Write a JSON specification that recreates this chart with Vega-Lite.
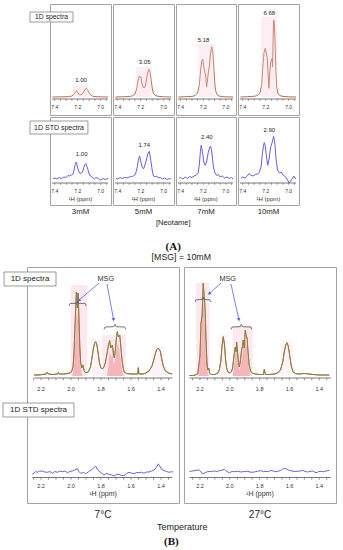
{
"$schema": "https://vega.github.io/schema/vega-lite/v6.json",
"background": "white",
"padding": {"left": 2, "top": 3, "right": 4, "bottom": 4},
"spacing": -1,
"config": {
  "view": {"stroke": "#a3a3a3", "strokeWidth": 1},
  "font": "Liberation Sans",
  "text": {"font": "Liberation Sans"},
  "title": {"font": "Liberation Sans", "fontWeight": "normal", "color": "#222"}
},
"datasets": {
  "one": [{}],
  "tA": [{"t":7.4},{"t":7.35},{"t":7.3},{"t":7.25},{"t":7.2},{"t":7.15},{"t":7.1},{"t":7.05},{"t":7.0},{"t":6.95}],
  "lA": [{"t":7.4,"lab":"7.4"},{"t":7.2,"lab":"7.2"},{"t":7.0,"lab":"7.0"}],
  "tB": [{"t":2.25},{"t":2.2},{"t":2.15},{"t":2.1},{"t":2.05},{"t":2.0},{"t":1.95},{"t":1.9},{"t":1.85},{"t":1.8},{"t":1.75},{"t":1.7},{"t":1.65},{"t":1.6},{"t":1.55},{"t":1.5},{"t":1.45},{"t":1.4},{"t":1.35}],
  "lB": [{"t":2.2,"lab":"2.2"},{"t":2.0,"lab":"2.0"},{"t":1.8,"lab":"1.8"},{"t":1.6,"lab":"1.6"},{"t":1.4,"lab":"1.4"}],
  "A1_3": [{"ppm":7.42,"i":0},{"ppm":7.38,"i":0.1},{"ppm":7.32,"i":0.2},{"ppm":7.28,"i":0.4},{"ppm":7.25,"i":1},{"ppm":7.235,"i":2.5},{"ppm":7.22,"i":5},{"ppm":7.21,"i":6.3},{"ppm":7.2,"i":4.5},{"ppm":7.19,"i":2.8},{"ppm":7.175,"i":2.2},{"ppm":7.16,"i":3},{"ppm":7.148,"i":5},{"ppm":7.135,"i":7.8},{"ppm":7.125,"i":8.7},{"ppm":7.115,"i":7.2},{"ppm":7.1,"i":4},{"ppm":7.085,"i":1.8},{"ppm":7.07,"i":0.8},{"ppm":7.05,"i":0.4},{"ppm":7.0,"i":0.1},{"ppm":6.935,"i":0}],
  "A1_5": [{"ppm":7.42,"i":0},{"ppm":7.36,"i":0.2},{"ppm":7.3,"i":0.5},{"ppm":7.27,"i":1.2},{"ppm":7.25,"i":3},{"ppm":7.235,"i":8},{"ppm":7.222,"i":17},{"ppm":7.212,"i":21},{"ppm":7.205,"i":19.5},{"ppm":7.198,"i":20},{"ppm":7.19,"i":14},{"ppm":7.18,"i":10},{"ppm":7.17,"i":9},{"ppm":7.16,"i":11},{"ppm":7.15,"i":17},{"ppm":7.14,"i":24},{"ppm":7.13,"i":27.7},{"ppm":7.12,"i":26},{"ppm":7.11,"i":18},{"ppm":7.1,"i":9},{"ppm":7.09,"i":4},{"ppm":7.075,"i":1.8},{"ppm":7.05,"i":0.7},{"ppm":7.0,"i":0.2},{"ppm":6.935,"i":0}],
  "A1_7": [{"ppm":7.42,"i":0},{"ppm":7.36,"i":0.3},{"ppm":7.3,"i":0.6},{"ppm":7.27,"i":1.5},{"ppm":7.25,"i":4},{"ppm":7.235,"i":12},{"ppm":7.222,"i":28},{"ppm":7.212,"i":36},{"ppm":7.204,"i":37.7},{"ppm":7.195,"i":30},{"ppm":7.186,"i":25},{"ppm":7.179,"i":22},{"ppm":7.17,"i":10},{"ppm":7.162,"i":18},{"ppm":7.154,"i":25},{"ppm":7.145,"i":32},{"ppm":7.135,"i":44},{"ppm":7.125,"i":50.3},{"ppm":7.115,"i":45},{"ppm":7.105,"i":28},{"ppm":7.095,"i":10},{"ppm":7.085,"i":4},{"ppm":7.07,"i":1.5},{"ppm":7.05,"i":0.6},{"ppm":7.0,"i":0.2},{"ppm":6.935,"i":0}],
  "A1_10": [{"ppm":7.42,"i":0},{"ppm":7.36,"i":0.3},{"ppm":7.3,"i":0.7},{"ppm":7.27,"i":1.5},{"ppm":7.25,"i":4},{"ppm":7.235,"i":12},{"ppm":7.225,"i":30},{"ppm":7.215,"i":44},{"ppm":7.204,"i":48.7},{"ppm":7.195,"i":44},{"ppm":7.187,"i":39},{"ppm":7.18,"i":25},{"ppm":7.172,"i":8.7},{"ppm":7.164,"i":25},{"ppm":7.157,"i":34},{"ppm":7.15,"i":37},{"ppm":7.145,"i":38.7},{"ppm":7.14,"i":30},{"ppm":7.136,"i":55},{"ppm":7.131,"i":77},{"ppm":7.126,"i":75},{"ppm":7.12,"i":60},{"ppm":7.112,"i":30},{"ppm":7.104,"i":10},{"ppm":7.095,"i":4},{"ppm":7.08,"i":1.5},{"ppm":7.05,"i":0.6},{"ppm":7.0,"i":0.2},{"ppm":6.935,"i":0}],
  "A2_3": [{"ppm":7.415,"i":0.5},{"ppm":7.40,"i":1},{"ppm":7.38,"i":0},{"ppm":7.36,"i":1.5},{"ppm":7.34,"i":0.5},{"ppm":7.32,"i":2},{"ppm":7.30,"i":1.5},{"ppm":7.285,"i":3.5},{"ppm":7.27,"i":3},{"ppm":7.255,"i":4},{"ppm":7.24,"i":5},{"ppm":7.23,"i":10},{"ppm":7.22,"i":15.5},{"ppm":7.212,"i":17},{"ppm":7.20,"i":11},{"ppm":7.185,"i":6},{"ppm":7.17,"i":5.5},{"ppm":7.155,"i":8},{"ppm":7.14,"i":14},{"ppm":7.128,"i":15.5},{"ppm":7.115,"i":11},{"ppm":7.10,"i":5},{"ppm":7.085,"i":2.5},{"ppm":7.07,"i":1.5},{"ppm":7.055,"i":0},{"ppm":7.04,"i":1.5},{"ppm":7.02,"i":0.5},{"ppm":7.00,"i":-1},{"ppm":6.98,"i":0.5},{"ppm":6.96,"i":-0.5},{"ppm":6.935,"i":0.5}],
  "A2_5": [{"ppm":7.415,"i":0.5},{"ppm":7.40,"i":0},{"ppm":7.38,"i":1.5},{"ppm":7.36,"i":0.5},{"ppm":7.34,"i":1.5},{"ppm":7.32,"i":1},{"ppm":7.30,"i":2},{"ppm":7.28,"i":2.5},{"ppm":7.26,"i":3},{"ppm":7.245,"i":5},{"ppm":7.23,"i":12},{"ppm":7.218,"i":20},{"ppm":7.209,"i":23},{"ppm":7.198,"i":17},{"ppm":7.185,"i":11},{"ppm":7.174,"i":10.3},{"ppm":7.16,"i":15},{"ppm":7.145,"i":22},{"ppm":7.135,"i":26},{"ppm":7.125,"i":27.7},{"ppm":7.115,"i":21},{"ppm":7.10,"i":9},{"ppm":7.089,"i":3},{"ppm":7.075,"i":2},{"ppm":7.06,"i":3},{"ppm":7.045,"i":1},{"ppm":7.03,"i":1.5},{"ppm":7.01,"i":0},{"ppm":6.99,"i":1},{"ppm":6.97,"i":-0.5},{"ppm":6.95,"i":0.5},{"ppm":6.935,"i":0}],
  "A2_7": [{"ppm":7.415,"i":0.5},{"ppm":7.40,"i":1.5},{"ppm":7.38,"i":0},{"ppm":7.36,"i":2},{"ppm":7.34,"i":0.5},{"ppm":7.32,"i":2.5},{"ppm":7.30,"i":1.5},{"ppm":7.28,"i":3},{"ppm":7.26,"i":4},{"ppm":7.245,"i":6},{"ppm":7.235,"i":14},{"ppm":7.225,"i":28},{"ppm":7.218,"i":33.7},{"ppm":7.208,"i":28},{"ppm":7.195,"i":17},{"ppm":7.183,"i":13.7},{"ppm":7.17,"i":17},{"ppm":7.155,"i":27},{"ppm":7.142,"i":32},{"ppm":7.134,"i":33},{"ppm":7.122,"i":25},{"ppm":7.11,"i":12},{"ppm":7.096,"i":6},{"ppm":7.08,"i":3.5},{"ppm":7.065,"i":4.5},{"ppm":7.05,"i":2},{"ppm":7.03,"i":3},{"ppm":7.01,"i":1},{"ppm":6.99,"i":2},{"ppm":6.97,"i":0.5},{"ppm":6.95,"i":1.5},{"ppm":6.935,"i":0}],
  "A2_10": [{"ppm":7.415,"i":1},{"ppm":7.40,"i":2},{"ppm":7.38,"i":1},{"ppm":7.36,"i":3},{"ppm":7.345,"i":5.5},{"ppm":7.33,"i":4},{"ppm":7.31,"i":3},{"ppm":7.29,"i":4.5},{"ppm":7.27,"i":5},{"ppm":7.255,"i":7},{"ppm":7.24,"i":12},{"ppm":7.228,"i":26},{"ppm":7.218,"i":34},{"ppm":7.212,"i":36.3},{"ppm":7.205,"i":34},{"ppm":7.195,"i":24},{"ppm":7.182,"i":13.7},{"ppm":7.17,"i":20},{"ppm":7.158,"i":31},{"ppm":7.152,"i":33.7},{"ppm":7.145,"i":36},{"ppm":7.131,"i":42.7},{"ppm":7.12,"i":35},{"ppm":7.108,"i":18},{"ppm":7.096,"i":8.7},{"ppm":7.08,"i":6},{"ppm":7.065,"i":7},{"ppm":7.05,"i":4},{"ppm":7.035,"i":3},{"ppm":7.02,"i":1},{"ppm":7.005,"i":-2},{"ppm":6.995,"i":-4},{"ppm":6.985,"i":-2},{"ppm":6.97,"i":0},{"ppm":6.955,"i":3},{"ppm":6.945,"i":1},{"ppm":6.935,"i":0}],
  "B1_1d": [{"ppm":2.246,"i":1},{"ppm":2.22,"i":1},{"ppm":2.19,"i":1.5},{"ppm":2.165,"i":2},{"ppm":2.158,"i":4},{"ppm":2.15,"i":2},{"ppm":2.12,"i":1.5},{"ppm":2.09,"i":2},{"ppm":2.084,"i":3.5},{"ppm":2.078,"i":2},{"ppm":2.05,"i":2},{"ppm":2.02,"i":2.5},{"ppm":2.0,"i":3.5},{"ppm":1.992,"i":6},{"ppm":1.986,"i":9},{"ppm":1.98,"i":22},{"ppm":1.975,"i":43},{"ppm":1.97,"i":62},{"ppm":1.964,"i":84},{"ppm":1.958,"i":68},{"ppm":1.953,"i":83},{"ppm":1.948,"i":64},{"ppm":1.941,"i":30},{"ppm":1.935,"i":13},{"ppm":1.928,"i":8},{"ppm":1.92,"i":11},{"ppm":1.912,"i":5},{"ppm":1.9,"i":3},{"ppm":1.885,"i":4},{"ppm":1.87,"i":9},{"ppm":1.86,"i":18},{"ppm":1.85,"i":28},{"ppm":1.842,"i":33},{"ppm":1.835,"i":34.3},{"ppm":1.827,"i":31},{"ppm":1.818,"i":22},{"ppm":1.81,"i":13},{"ppm":1.8,"i":8},{"ppm":1.791,"i":7},{"ppm":1.78,"i":9},{"ppm":1.77,"i":14},{"ppm":1.76,"i":22},{"ppm":1.75,"i":31},{"ppm":1.742,"i":35.3},{"ppm":1.735,"i":28},{"ppm":1.729,"i":30},{"ppm":1.724,"i":31},{"ppm":1.717,"i":22},{"ppm":1.711,"i":18},{"ppm":1.704,"i":26},{"ppm":1.697,"i":38},{"ppm":1.691,"i":44.3},{"ppm":1.684,"i":39},{"ppm":1.675,"i":41},{"ppm":1.668,"i":30},{"ppm":1.66,"i":16},{"ppm":1.652,"i":8},{"ppm":1.646,"i":4},{"ppm":1.63,"i":2.5},{"ppm":1.6,"i":2},{"ppm":1.57,"i":2},{"ppm":1.555,"i":2},{"ppm":1.551,"i":8.3},{"ppm":1.547,"i":2},{"ppm":1.52,"i":2},{"ppm":1.5,"i":3},{"ppm":1.48,"i":5},{"ppm":1.46,"i":10},{"ppm":1.45,"i":15},{"ppm":1.44,"i":21},{"ppm":1.43,"i":26},{"ppm":1.418,"i":28},{"ppm":1.405,"i":25},{"ppm":1.395,"i":17},{"ppm":1.385,"i":10},{"ppm":1.37,"i":5},{"ppm":1.35,"i":3},{"ppm":1.326,"i":2}],
  "B1_red": [{"ppm":1.99,"i":0},{"ppm":1.98,"i":10},{"ppm":1.972,"i":35},{"ppm":1.964,"i":68},{"ppm":1.958,"i":55},{"ppm":1.953,"i":70},{"ppm":1.946,"i":50},{"ppm":1.938,"i":15},{"ppm":1.93,"i":3},{"ppm":1.92,"i":0},{"ppm":1.76,"i":0},{"ppm":1.75,"i":10},{"ppm":1.742,"i":25},{"ppm":1.733,"i":18},{"ppm":1.724,"i":24},{"ppm":1.716,"i":12},{"ppm":1.708,"i":14},{"ppm":1.698,"i":26},{"ppm":1.69,"i":32},{"ppm":1.68,"i":28},{"ppm":1.672,"i":20},{"ppm":1.66,"i":6},{"ppm":1.65,"i":0}],
  "B1_br": [{"id":1,"ppm":2.013,"i":70},{"id":1,"ppm":2.006,"i":72.5},{"id":1,"ppm":1.963,"i":72.7},{"id":1,"ppm":1.955,"i":75},{"id":1,"ppm":1.948,"i":72.7},{"id":1,"ppm":1.904,"i":72.5},{"id":1,"ppm":1.898,"i":70},{"id":2,"ppm":1.78,"i":46.5},{"id":2,"ppm":1.773,"i":49},{"id":2,"ppm":1.715,"i":49.3},{"id":2,"ppm":1.707,"i":51.7},{"id":2,"ppm":1.7,"i":49.3},{"id":2,"ppm":1.642,"i":49},{"id":2,"ppm":1.635,"i":46.5}],
  "B1_std": [{"ppm":2.258,"i":-2.3},{"ppm":2.245,"i":-1},{"ppm":2.235,"i":0.5},{"ppm":2.224,"i":-0.3},{"ppm":2.21,"i":0.8},{"ppm":2.191,"i":1},{"ppm":2.175,"i":0},{"ppm":2.158,"i":-0.3},{"ppm":2.14,"i":0.5},{"ppm":2.124,"i":-1.3},{"ppm":2.108,"i":0.5},{"ppm":2.091,"i":-0.3},{"ppm":2.075,"i":0.8},{"ppm":2.058,"i":0.3},{"ppm":2.04,"i":1},{"ppm":2.024,"i":-0.7},{"ppm":2.008,"i":0.5},{"ppm":1.991,"i":1},{"ppm":1.975,"i":2},{"ppm":1.958,"i":3.5},{"ppm":1.947,"i":0.5},{"ppm":1.935,"i":-1.3},{"ppm":1.918,"i":-0.5},{"ppm":1.902,"i":-1.7},{"ppm":1.885,"i":0},{"ppm":1.868,"i":1.7},{"ppm":1.85,"i":4},{"ppm":1.835,"i":5.8},{"ppm":1.825,"i":3},{"ppm":1.813,"i":1},{"ppm":1.797,"i":-1},{"ppm":1.78,"i":-3},{"ppm":1.763,"i":-1.5},{"ppm":1.746,"i":-2.3},{"ppm":1.73,"i":-2.8},{"ppm":1.713,"i":-4},{"ppm":1.697,"i":-2.5},{"ppm":1.68,"i":-2.3},{"ppm":1.663,"i":-3.5},{"ppm":1.646,"i":-3.7},{"ppm":1.63,"i":-1.5},{"ppm":1.613,"i":-0.3},{"ppm":1.597,"i":-1},{"ppm":1.58,"i":-1.7},{"ppm":1.563,"i":-0.5},{"ppm":1.546,"i":-0.7},{"ppm":1.53,"i":-0.2},{"ppm":1.513,"i":-1.3},{"ppm":1.497,"i":0},{"ppm":1.48,"i":0},{"ppm":1.463,"i":1},{"ppm":1.446,"i":2},{"ppm":1.43,"i":4.5},{"ppm":1.418,"i":8.2},{"ppm":1.405,"i":5},{"ppm":1.395,"i":2.5},{"ppm":1.38,"i":1.5},{"ppm":1.363,"i":0.5},{"ppm":1.346,"i":-0.3},{"ppm":1.33,"i":0.3},{"ppm":1.318,"i":0}],
  "B2_1d": [{"ppm":2.271,"i":0.5},{"ppm":2.25,"i":0.5},{"ppm":2.23,"i":1},{"ppm":2.215,"i":2},{"ppm":2.209,"i":9},{"ppm":2.2,"i":20},{"ppm":2.193,"i":53},{"ppm":2.186,"i":60},{"ppm":2.178,"i":93},{"ppm":2.172,"i":80},{"ppm":2.168,"i":73},{"ppm":2.164,"i":60},{"ppm":2.16,"i":39},{"ppm":2.155,"i":20},{"ppm":2.151,"i":9},{"ppm":2.146,"i":6},{"ppm":2.141,"i":8},{"ppm":2.135,"i":3},{"ppm":2.126,"i":1.5},{"ppm":2.1,"i":1.5},{"ppm":2.08,"i":3},{"ppm":2.07,"i":6},{"ppm":2.06,"i":15},{"ppm":2.052,"i":30},{"ppm":2.044,"i":39.3},{"ppm":2.036,"i":32},{"ppm":2.028,"i":16},{"ppm":2.02,"i":7},{"ppm":2.01,"i":3.5},{"ppm":2.0,"i":3},{"ppm":1.99,"i":4},{"ppm":1.981,"i":8},{"ppm":1.972,"i":20},{"ppm":1.963,"i":29},{"ppm":1.958,"i":24},{"ppm":1.954,"i":34},{"ppm":1.947,"i":22},{"ppm":1.94,"i":12},{"ppm":1.936,"i":9},{"ppm":1.93,"i":14},{"ppm":1.922,"i":25},{"ppm":1.915,"i":30},{"ppm":1.91,"i":36},{"ppm":1.903,"i":28},{"ppm":1.896,"i":46},{"ppm":1.89,"i":40},{"ppm":1.885,"i":39},{"ppm":1.878,"i":25},{"ppm":1.87,"i":11},{"ppm":1.86,"i":5},{"ppm":1.853,"i":3},{"ppm":1.83,"i":2},{"ppm":1.8,"i":1.5},{"ppm":1.775,"i":1.5},{"ppm":1.768,"i":7},{"ppm":1.762,"i":1.5},{"ppm":1.74,"i":1.5},{"ppm":1.7,"i":2},{"ppm":1.68,"i":3},{"ppm":1.66,"i":6},{"ppm":1.645,"i":14},{"ppm":1.635,"i":24},{"ppm":1.625,"i":31},{"ppm":1.617,"i":33.3},{"ppm":1.608,"i":30},{"ppm":1.598,"i":20},{"ppm":1.588,"i":10},{"ppm":1.575,"i":4},{"ppm":1.56,"i":2.5},{"ppm":1.54,"i":2},{"ppm":1.5,"i":2.5},{"ppm":1.47,"i":2},{"ppm":1.44,"i":1.5},{"ppm":1.4,"i":1},{"ppm":1.36,"i":1},{"ppm":1.333,"i":1}],
  "B2_red": [{"ppm":2.21,"i":0},{"ppm":2.195,"i":25},{"ppm":2.185,"i":60},{"ppm":2.178,"i":80},{"ppm":2.17,"i":60},{"ppm":2.16,"i":30},{"ppm":2.15,"i":5},{"ppm":2.14,"i":0},{"ppm":1.98,"i":0},{"ppm":1.97,"i":12},{"ppm":1.963,"i":22},{"ppm":1.954,"i":26},{"ppm":1.945,"i":12},{"ppm":1.936,"i":5},{"ppm":1.925,"i":12},{"ppm":1.91,"i":28},{"ppm":1.897,"i":36},{"ppm":1.886,"i":30},{"ppm":1.872,"i":8},{"ppm":1.86,"i":0}],
  "B2_br": [{"id":1,"ppm":2.233,"i":73.7},{"id":1,"ppm":2.227,"i":76.2},{"id":1,"ppm":2.186,"i":76.5},{"id":1,"ppm":2.18,"i":79},{"id":1,"ppm":2.173,"i":76.5},{"id":1,"ppm":2.133,"i":76.2},{"id":1,"ppm":2.126,"i":73.7},{"id":2,"ppm":1.992,"i":46.5},{"id":2,"ppm":1.985,"i":49},{"id":2,"ppm":1.93,"i":49.3},{"id":2,"ppm":1.923,"i":51.7},{"id":2,"ppm":1.915,"i":49.3},{"id":2,"ppm":1.86,"i":49},{"id":2,"ppm":1.853,"i":46.5}],
  "B2_std": [{"ppm":2.271,"i":0.3},{"ppm":2.255,"i":1},{"ppm":2.238,"i":1.3},{"ppm":2.22,"i":1.8},{"ppm":2.204,"i":2},{"ppm":2.192,"i":0},{"ppm":2.182,"i":-2},{"ppm":2.165,"i":-0.5},{"ppm":2.148,"i":0.3},{"ppm":2.125,"i":0.5},{"ppm":2.104,"i":1},{"ppm":2.087,"i":0.5},{"ppm":2.07,"i":1.3},{"ppm":2.053,"i":1.8},{"ppm":2.037,"i":2.7},{"ppm":2.02,"i":0.5},{"ppm":2.003,"i":-0.7},{"ppm":1.985,"i":0.5},{"ppm":1.97,"i":0.3},{"ppm":1.948,"i":0.8},{"ppm":1.925,"i":0},{"ppm":1.903,"i":0.5},{"ppm":1.88,"i":0.7},{"ppm":1.858,"i":-0.3},{"ppm":1.836,"i":0},{"ppm":1.813,"i":0.8},{"ppm":1.791,"i":1.3},{"ppm":1.774,"i":0.3},{"ppm":1.757,"i":0.7},{"ppm":1.74,"i":0.3},{"ppm":1.724,"i":1.7},{"ppm":1.7,"i":0.5},{"ppm":1.679,"i":0.7},{"ppm":1.66,"i":1.5},{"ppm":1.645,"i":3},{"ppm":1.633,"i":3.5},{"ppm":1.623,"i":3.3},{"ppm":1.607,"i":2},{"ppm":1.59,"i":1.3},{"ppm":1.568,"i":0.5},{"ppm":1.545,"i":0.7},{"ppm":1.528,"i":1},{"ppm":1.511,"i":1.7},{"ppm":1.495,"i":0.5},{"ppm":1.478,"i":0},{"ppm":1.461,"i":0.7},{"ppm":1.444,"i":1},{"ppm":1.433,"i":0},{"ppm":1.422,"i":-0.7},{"ppm":1.405,"i":0.3},{"ppm":1.389,"i":0.7},{"ppm":1.372,"i":0.3},{"ppm":1.355,"i":1},{"ppm":1.333,"i":1.7}]
},
"vconcat": [
 {
  "spacing": 0,
  "title": {"text": "[Neotame]", "subtitle": "(A)", "orient": "bottom", "anchor": "middle", "dx": 10, "offset": 3.4, "fontSize": 7.5, "fontWeight": "normal", "color": "#222", "subtitleFont": "Liberation Serif", "subtitleFontWeight": "bold", "subtitleFontSize": 11, "subtitleColor": "#111", "subtitlePadding": 14.6},
  "vconcat": [
   {"spacing": 0, "hconcat": [
    {"width": 2, "height": 111, "view": {"stroke": null}, "data": {"name": "one"}, "mark": {"type": "text"}, "encoding": {"text": {"value": ""}}},
    {"width": 61, "height": 111, "layer": [
      {"data": {"name": "A1_3"}, "mark": {"type": "line", "color": "#b5704a", "strokeWidth": 1}, "encoding": {
        "x": {"field": "ppm", "type": "quantitative", "scale": {"domain": [6.91, 7.441], "reverse": true, "zero": false, "nice": false}, "axis": null},
        "y": {"field": "i", "type": "quantitative", "scale": {"domain": [-18, 93], "zero": false, "nice": false}, "axis": null}}},
      {"data": {"name": "one"}, "mark": {"type": "rect", "color": "#f8c6d6", "opacity": 0.3}, "encoding": {"x": {"datum": 7.24, "axis": null}, "x2": {"datum": 7.105}, "y": {"datum": 0, "axis": null}, "y2": {"datum": 11}}},
      {"data": {"name": "one"}, "mark": {"type": "rule", "color": "#555", "strokeWidth": 0.8}, "encoding": {"x": {"datum": 7.424, "axis": null}, "x2": {"datum": 6.937}, "y": {"datum": -2, "axis": null}}},
      {"data": {"name": "tA"}, "mark": {"type": "rule", "color": "#555", "strokeWidth": 0.6}, "encoding": {"x": {"field": "t", "type": "quantitative", "axis": null}, "y": {"datum": -2, "axis": null}, "y2": {"datum": -3.8}}},
      {"data": {"name": "lA"}, "mark": {"type": "text", "fontSize": 5, "color": "#333"}, "encoding": {"x": {"field": "t", "type": "quantitative", "axis": null}, "y": {"datum": -9.7, "axis": null}, "text": {"field": "lab"}}},
      {"data": {"name": "one"}, "mark": {"type": "text", "fontSize": 6, "color": "#222"}, "encoding": {"x": {"datum": 7.171, "axis": null}, "y": {"datum": 17, "axis": null}, "text": {"value": "1.00"}}},
      {"data": {"name": "one"}, "mark": {"type": "rect", "fill": "white", "stroke": "#707070", "strokeWidth": 0.7}, "encoding": {"x": {"datum": 7.615, "axis": null}, "x2": {"datum": 7.241}, "y": {"datum": 85, "axis": null}, "y2": {"datum": 75}}},
      {"data": {"name": "one"}, "mark": {"type": "text", "fontSize": 6.8, "color": "#222"}, "encoding": {"x": {"datum": 7.428, "axis": null}, "y": {"datum": 80, "axis": null}, "text": {"value": "1D spectra"}}}
    ]},
    {"width": 61, "height": 111, "layer": [
      {"data": {"name": "A1_5"}, "mark": {"type": "line", "color": "#b5704a", "strokeWidth": 1}, "encoding": {
        "x": {"field": "ppm", "type": "quantitative", "scale": {"domain": [6.91, 7.441], "reverse": true, "zero": false, "nice": false}, "axis": null},
        "y": {"field": "i", "type": "quantitative", "scale": {"domain": [-18, 93], "zero": false, "nice": false}, "axis": null}}},
      {"data": {"name": "one"}, "mark": {"type": "rect", "color": "#f8c6d6", "opacity": 0.3}, "encoding": {"x": {"datum": 7.24, "axis": null}, "x2": {"datum": 7.105}, "y": {"datum": 0, "axis": null}, "y2": {"datum": 30}}},
      {"data": {"name": "one"}, "mark": {"type": "rule", "color": "#555", "strokeWidth": 0.8}, "encoding": {"x": {"datum": 7.424, "axis": null}, "x2": {"datum": 6.937}, "y": {"datum": -2, "axis": null}}},
      {"data": {"name": "tA"}, "mark": {"type": "rule", "color": "#555", "strokeWidth": 0.6}, "encoding": {"x": {"field": "t", "type": "quantitative", "axis": null}, "y": {"datum": -2, "axis": null}, "y2": {"datum": -3.8}}},
      {"data": {"name": "lA"}, "mark": {"type": "text", "fontSize": 5, "color": "#333"}, "encoding": {"x": {"field": "t", "type": "quantitative", "axis": null}, "y": {"datum": -9.7, "axis": null}, "text": {"field": "lab"}}},
      {"data": {"name": "one"}, "mark": {"type": "text", "fontSize": 6, "color": "#222"}, "encoding": {"x": {"datum": 7.165, "axis": null}, "y": {"datum": 35, "axis": null}, "text": {"value": "3.05"}}}
    ]},
    {"width": 60, "height": 111, "layer": [
      {"data": {"name": "A1_7"}, "mark": {"type": "line", "color": "#b5704a", "strokeWidth": 1}, "encoding": {
        "x": {"field": "ppm", "type": "quantitative", "scale": {"domain": [6.91, 7.441], "reverse": true, "zero": false, "nice": false}, "axis": null},
        "y": {"field": "i", "type": "quantitative", "scale": {"domain": [-18, 93], "zero": false, "nice": false}, "axis": null}}},
      {"data": {"name": "one"}, "mark": {"type": "rect", "color": "#f8c6d6", "opacity": 0.3}, "encoding": {"x": {"datum": 7.24, "axis": null}, "x2": {"datum": 7.1}, "y": {"datum": 0, "axis": null}, "y2": {"datum": 53}}},
      {"data": {"name": "one"}, "mark": {"type": "rule", "color": "#555", "strokeWidth": 0.8}, "encoding": {"x": {"datum": 7.424, "axis": null}, "x2": {"datum": 6.937}, "y": {"datum": -2, "axis": null}}},
      {"data": {"name": "tA"}, "mark": {"type": "rule", "color": "#555", "strokeWidth": 0.6}, "encoding": {"x": {"field": "t", "type": "quantitative", "axis": null}, "y": {"datum": -2, "axis": null}, "y2": {"datum": -3.8}}},
      {"data": {"name": "lA"}, "mark": {"type": "text", "fontSize": 5, "color": "#333"}, "encoding": {"x": {"field": "t", "type": "quantitative", "axis": null}, "y": {"datum": -9.7, "axis": null}, "text": {"field": "lab"}}},
      {"data": {"name": "one"}, "mark": {"type": "text", "fontSize": 6, "color": "#222"}, "encoding": {"x": {"datum": 7.197, "axis": null}, "y": {"datum": 57, "axis": null}, "text": {"value": "5.18"}}}
    ]},
    {"width": 61, "height": 111, "layer": [
      {"data": {"name": "A1_10"}, "mark": {"type": "line", "color": "#b5704a", "strokeWidth": 1}, "encoding": {
        "x": {"field": "ppm", "type": "quantitative", "scale": {"domain": [6.91, 7.441], "reverse": true, "zero": false, "nice": false}, "axis": null},
        "y": {"field": "i", "type": "quantitative", "scale": {"domain": [-18, 93], "zero": false, "nice": false}, "axis": null}}},
      {"data": {"name": "one"}, "mark": {"type": "rect", "color": "#f8c6d6", "opacity": 0.3}, "encoding": {"x": {"datum": 7.241, "axis": null}, "x2": {"datum": 7.1}, "y": {"datum": 0, "axis": null}, "y2": {"datum": 80}}},
      {"data": {"name": "one"}, "mark": {"type": "rule", "color": "#555", "strokeWidth": 0.8}, "encoding": {"x": {"datum": 7.424, "axis": null}, "x2": {"datum": 6.937}, "y": {"datum": -2, "axis": null}}},
      {"data": {"name": "tA"}, "mark": {"type": "rule", "color": "#555", "strokeWidth": 0.6}, "encoding": {"x": {"field": "t", "type": "quantitative", "axis": null}, "y": {"datum": -2, "axis": null}, "y2": {"datum": -3.8}}},
      {"data": {"name": "lA"}, "mark": {"type": "text", "fontSize": 5, "color": "#333"}, "encoding": {"x": {"field": "t", "type": "quantitative", "axis": null}, "y": {"datum": -9.7, "axis": null}, "text": {"field": "lab"}}},
      {"data": {"name": "one"}, "mark": {"type": "text", "fontSize": 6, "color": "#222"}, "encoding": {"x": {"datum": 7.169, "axis": null}, "y": {"datum": 84, "axis": null}, "text": {"value": "6.68"}}}
    ]}
   ]},
   {"spacing": 0, "hconcat": [
    {"width": 2, "height": 88, "view": {"stroke": null}, "data": {"name": "one"}, "mark": {"type": "text"}, "encoding": {"text": {"value": ""}}},
    {"width": 61, "height": 88, "title": {"text": "3mM", "orient": "bottom", "frame": "group", "anchor": "middle", "fontSize": 7.8, "offset": 2.6}, "layer": [
      {"data": {"name": "A2_3"}, "mark": {"type": "line", "color": "#6a60e0", "strokeWidth": 1}, "encoding": {
        "x": {"field": "ppm", "type": "quantitative", "scale": {"domain": [6.91, 7.441], "reverse": true, "zero": false, "nice": false}, "axis": null},
        "y": {"field": "i", "type": "quantitative", "scale": {"domain": [-26, 62], "zero": false, "nice": false}, "axis": null}}},
      {"data": {"name": "one"}, "mark": {"type": "rule", "color": "#555", "strokeWidth": 0.8}, "encoding": {"x": {"datum": 7.424, "axis": null}, "x2": {"datum": 6.937}, "y": {"datum": -4, "axis": null}}},
      {"data": {"name": "tA"}, "mark": {"type": "rule", "color": "#555", "strokeWidth": 0.6}, "encoding": {"x": {"field": "t", "type": "quantitative", "axis": null}, "y": {"datum": -4, "axis": null}, "y2": {"datum": -5.8}}},
      {"data": {"name": "lA"}, "mark": {"type": "text", "fontSize": 5, "color": "#333"}, "encoding": {"x": {"field": "t", "type": "quantitative", "axis": null}, "y": {"datum": -12.3, "axis": null}, "text": {"field": "lab"}}},
      {"data": {"name": "one"}, "mark": {"type": "text", "fontSize": 6, "color": "#333"}, "encoding": {"x": {"datum": 7.176, "axis": null}, "y": {"datum": -19.7, "axis": null}, "text": {"value": "¹H (ppm)"}}},
      {"data": {"name": "one"}, "mark": {"type": "text", "fontSize": 6, "color": "#222"}, "encoding": {"x": {"datum": 7.165, "axis": null}, "y": {"datum": 24.7, "axis": null}, "text": {"value": "1.00"}}},
      {"data": {"name": "one"}, "mark": {"type": "rect", "fill": "white", "stroke": "#707070", "strokeWidth": 0.7}, "encoding": {"x": {"datum": 7.615, "axis": null}, "x2": {"datum": 7.111}, "y": {"datum": 58, "axis": null}, "y2": {"datum": 45}}},
      {"data": {"name": "one"}, "mark": {"type": "text", "fontSize": 7, "color": "#222"}, "encoding": {"x": {"datum": 7.363, "axis": null}, "y": {"datum": 51.5, "axis": null}, "text": {"value": "1D STD spectra"}}}
    ]},
    {"width": 61, "height": 88, "title": {"text": "5mM", "orient": "bottom", "frame": "group", "anchor": "middle", "fontSize": 7.8, "offset": 2.6}, "layer": [
      {"data": {"name": "A2_5"}, "mark": {"type": "line", "color": "#6a60e0", "strokeWidth": 1}, "encoding": {
        "x": {"field": "ppm", "type": "quantitative", "scale": {"domain": [6.91, 7.441], "reverse": true, "zero": false, "nice": false}, "axis": null},
        "y": {"field": "i", "type": "quantitative", "scale": {"domain": [-26, 62], "zero": false, "nice": false}, "axis": null}}},
      {"data": {"name": "one"}, "mark": {"type": "rule", "color": "#555", "strokeWidth": 0.8}, "encoding": {"x": {"datum": 7.424, "axis": null}, "x2": {"datum": 6.937}, "y": {"datum": -4, "axis": null}}},
      {"data": {"name": "tA"}, "mark": {"type": "rule", "color": "#555", "strokeWidth": 0.6}, "encoding": {"x": {"field": "t", "type": "quantitative", "axis": null}, "y": {"datum": -4, "axis": null}, "y2": {"datum": -5.8}}},
      {"data": {"name": "lA"}, "mark": {"type": "text", "fontSize": 5, "color": "#333"}, "encoding": {"x": {"field": "t", "type": "quantitative", "axis": null}, "y": {"datum": -12.3, "axis": null}, "text": {"field": "lab"}}},
      {"data": {"name": "one"}, "mark": {"type": "text", "fontSize": 6, "color": "#333"}, "encoding": {"x": {"datum": 7.176, "axis": null}, "y": {"datum": -19.7, "axis": null}, "text": {"value": "¹H (ppm)"}}},
      {"data": {"name": "one"}, "mark": {"type": "text", "fontSize": 6, "color": "#222"}, "encoding": {"x": {"datum": 7.169, "axis": null}, "y": {"datum": 34.3, "axis": null}, "text": {"value": "1.74"}}}
    ]},
    {"width": 60, "height": 88, "title": {"text": "7mM", "orient": "bottom", "frame": "group", "anchor": "middle", "fontSize": 7.8, "offset": 2.6}, "layer": [
      {"data": {"name": "A2_7"}, "mark": {"type": "line", "color": "#6a60e0", "strokeWidth": 1}, "encoding": {
        "x": {"field": "ppm", "type": "quantitative", "scale": {"domain": [6.91, 7.441], "reverse": true, "zero": false, "nice": false}, "axis": null},
        "y": {"field": "i", "type": "quantitative", "scale": {"domain": [-26, 62], "zero": false, "nice": false}, "axis": null}}},
      {"data": {"name": "one"}, "mark": {"type": "rule", "color": "#555", "strokeWidth": 0.8}, "encoding": {"x": {"datum": 7.424, "axis": null}, "x2": {"datum": 6.937}, "y": {"datum": -4, "axis": null}}},
      {"data": {"name": "tA"}, "mark": {"type": "rule", "color": "#555", "strokeWidth": 0.6}, "encoding": {"x": {"field": "t", "type": "quantitative", "axis": null}, "y": {"datum": -4, "axis": null}, "y2": {"datum": -5.8}}},
      {"data": {"name": "lA"}, "mark": {"type": "text", "fontSize": 5, "color": "#333"}, "encoding": {"x": {"field": "t", "type": "quantitative", "axis": null}, "y": {"datum": -12.3, "axis": null}, "text": {"field": "lab"}}},
      {"data": {"name": "one"}, "mark": {"type": "text", "fontSize": 6, "color": "#333"}, "encoding": {"x": {"datum": 7.176, "axis": null}, "y": {"datum": -19.7, "axis": null}, "text": {"value": "¹H (ppm)"}}},
      {"data": {"name": "one"}, "mark": {"type": "text", "fontSize": 6, "color": "#222"}, "encoding": {"x": {"datum": 7.169, "axis": null}, "y": {"datum": 42, "axis": null}, "text": {"value": "2.40"}}}
    ]},
    {"width": 61, "height": 88, "title": {"text": "10mM", "orient": "bottom", "frame": "group", "anchor": "middle", "fontSize": 7.8, "offset": 2.6}, "layer": [
      {"data": {"name": "A2_10"}, "mark": {"type": "line", "color": "#6a60e0", "strokeWidth": 1}, "encoding": {
        "x": {"field": "ppm", "type": "quantitative", "scale": {"domain": [6.91, 7.441], "reverse": true, "zero": false, "nice": false}, "axis": null},
        "y": {"field": "i", "type": "quantitative", "scale": {"domain": [-26, 62], "zero": false, "nice": false}, "axis": null}}},
      {"data": {"name": "one"}, "mark": {"type": "rule", "color": "#555", "strokeWidth": 0.8}, "encoding": {"x": {"datum": 7.424, "axis": null}, "x2": {"datum": 6.937}, "y": {"datum": -4, "axis": null}}},
      {"data": {"name": "tA"}, "mark": {"type": "rule", "color": "#555", "strokeWidth": 0.6}, "encoding": {"x": {"field": "t", "type": "quantitative", "axis": null}, "y": {"datum": -4, "axis": null}, "y2": {"datum": -5.8}}},
      {"data": {"name": "lA"}, "mark": {"type": "text", "fontSize": 5, "color": "#333"}, "encoding": {"x": {"field": "t", "type": "quantitative", "axis": null}, "y": {"datum": -12.3, "axis": null}, "text": {"field": "lab"}}},
      {"data": {"name": "one"}, "mark": {"type": "text", "fontSize": 6, "color": "#333"}, "encoding": {"x": {"datum": 7.176, "axis": null}, "y": {"datum": -19.7, "axis": null}, "text": {"value": "¹H (ppm)"}}},
      {"data": {"name": "one"}, "mark": {"type": "text", "fontSize": 6, "color": "#222"}, "encoding": {"x": {"datum": 7.169, "axis": null}, "y": {"datum": 48.7, "axis": null}, "text": {"value": "2.90"}}}
    ]}
   ]}
  ]
 },
 {
  "title": {"text": "[MSG] = 10mM", "orient": "top", "anchor": "middle", "dx": 12, "offset": 5, "fontSize": 8.8, "fontWeight": "normal", "color": "#222"},
  "vconcat": [
   {
    "title": {"text": "(B)", "orient": "bottom", "anchor": "middle", "dx": 2, "offset": 3.9, "font": "Liberation Serif", "fontWeight": "bold", "fontSize": 11, "color": "#111"},
    "vconcat": [
     {
      "spacing": 3,
      "title": {"text": "Temperature", "orient": "bottom", "anchor": "middle", "dx": 13, "offset": 2.6, "fontSize": 9, "fontWeight": "normal", "color": "#222"},
      "hconcat": [
       {"width": 152, "height": 236,
        "title": {"text": "7°C", "orient": "bottom", "frame": "group", "anchor": "middle", "fontSize": 10, "offset": 6.5},
        "resolve": {"scale": {"y": "independent"}},
        "layer": [
         {"layer": [
          {"data": {"name": "B1_1d"}, "mark": {"type": "line", "color": "#8f7d3f", "strokeWidth": 1}, "encoding": {
            "x": {"field": "ppm", "type": "quantitative", "scale": {"domain": [1.28, 2.293], "reverse": true, "zero": false, "nice": false}, "axis": null},
            "y": {"field": "i", "type": "quantitative", "scale": {"domain": [-127, 109], "zero": false, "nice": false}, "axis": null}}},
          {"data": {"name": "one"}, "mark": {"type": "rect", "color": "#f8c6d6", "opacity": 0.4}, "encoding": {"x": {"datum": 2.002, "axis": null}, "x2": {"datum": 1.891}, "y": {"datum": 0, "axis": null}, "y2": {"datum": 91}}},
          {"data": {"name": "one"}, "mark": {"type": "rect", "color": "#f8c6d6", "opacity": 0.4}, "encoding": {"x": {"datum": 1.791, "axis": null}, "x2": {"datum": 1.635}, "y": {"datum": 0, "axis": null}, "y2": {"datum": 41}}},
          {"data": {"name": "one"}, "mark": {"type": "rect", "color": "#f8c6d6", "opacity": 0.2}, "encoding": {"x": {"datum": 1.868, "axis": null}, "x2": {"datum": 1.8}, "y": {"datum": 0, "axis": null}, "y2": {"datum": 37}}},
          {"data": {"name": "one"}, "mark": {"type": "rect", "color": "#f8c6d6", "opacity": 0.2}, "encoding": {"x": {"datum": 1.46, "axis": null}, "x2": {"datum": 1.38}, "y": {"datum": 0, "axis": null}, "y2": {"datum": 30}}},
          {"data": {"name": "B1_red"}, "mark": {"type": "area", "color": "#e5413a", "opacity": 0.3}, "encoding": {"x": {"field": "ppm", "type": "quantitative", "axis": null}, "y": {"field": "i", "type": "quantitative", "axis": null}, "y2": {"datum": 0}}},
          {"data": {"name": "B1_1d"}, "mark": {"type": "line", "color": "#8f7d3f", "strokeWidth": 1}, "encoding": {"x": {"field": "ppm", "type": "quantitative", "axis": null}, "y": {"field": "i", "type": "quantitative", "axis": null}}},
          {"data": {"name": "one"}, "mark": {"type": "rule", "color": "#555", "strokeWidth": 0.8}, "encoding": {"x": {"datum": 2.246, "axis": null}, "x2": {"datum": 1.326}, "y": {"datum": -2, "axis": null}}},
          {"data": {"name": "tB"}, "mark": {"type": "rule", "color": "#555", "strokeWidth": 0.6}, "encoding": {"x": {"field": "t", "type": "quantitative", "axis": null}, "y": {"datum": -2, "axis": null}, "y2": {"datum": -4.3}}},
          {"data": {"name": "lB"}, "mark": {"type": "text", "fontSize": 5.5, "color": "#333"}, "encoding": {"x": {"field": "t", "type": "quantitative", "axis": null}, "y": {"datum": -13.3, "axis": null}, "text": {"field": "lab"}}},
          {"data": {"name": "B1_br"}, "mark": {"type": "line", "color": "#555", "strokeWidth": 0.8}, "encoding": {"x": {"field": "ppm", "type": "quantitative", "axis": null}, "y": {"field": "i", "type": "quantitative", "axis": null}, "detail": {"field": "id"}}},
          {"data": {"name": "one"}, "mark": {"type": "rule", "color": "#5563e6", "strokeWidth": 0.8}, "encoding": {"x": {"datum": 1.813, "axis": null}, "y": {"datum": 93, "axis": null}, "x2": {"datum": 1.948}, "y2": {"datum": 75.6}}},
          {"data": {"name": "one"}, "mark": {"type": "rule", "color": "#5563e6", "strokeWidth": 0.8}, "encoding": {"x": {"datum": 1.76, "axis": null}, "y": {"datum": 92, "axis": null}, "x2": {"datum": 1.716}, "y2": {"datum": 56.3}}},
          {"data": {"name": "one"}, "mark": {"type": "point", "shape": "triangle-up", "filled": true, "color": "#5563e6", "opacity": 1, "size": 14, "angle": 229}, "encoding": {"x": {"datum": 1.948, "axis": null}, "y": {"datum": 75.6, "axis": null}}},
          {"data": {"name": "one"}, "mark": {"type": "point", "shape": "triangle-up", "filled": true, "color": "#5563e6", "opacity": 1, "size": 14, "angle": 169.5}, "encoding": {"x": {"datum": 1.716, "axis": null}, "y": {"datum": 56.3, "axis": null}}},
          {"data": {"name": "one"}, "mark": {"type": "text", "fontSize": 7.3, "color": "#333"}, "encoding": {"x": {"datum": 1.768, "axis": null}, "y": {"datum": 96.7, "axis": null}, "text": {"value": "MSG"}}},
          {"data": {"name": "one"}, "mark": {"type": "rect", "fill": "white", "stroke": "#707070", "strokeWidth": 0.7}, "encoding": {"x": {"datum": 2.446, "axis": null}, "x2": {"datum": 2.0997}, "y": {"datum": 104, "axis": null}, "y2": {"datum": 90}}},
          {"data": {"name": "one"}, "mark": {"type": "text", "fontSize": 8, "color": "#222"}, "encoding": {"x": {"datum": 2.273, "axis": null}, "y": {"datum": 97, "axis": null}, "text": {"value": "1D spectra"}}}
         ]},
         {"layer": [
          {"data": {"name": "B1_std"}, "mark": {"type": "line", "color": "#6a60e0", "strokeWidth": 1}, "encoding": {
            "x": {"field": "ppm", "type": "quantitative", "scale": {"domain": [1.28, 2.293], "reverse": true, "zero": false, "nice": false}, "axis": null},
            "y": {"field": "i", "type": "quantitative", "scale": {"domain": [-31, 205], "zero": false, "nice": false}, "axis": null}}},
          {"data": {"name": "one"}, "mark": {"type": "rule", "color": "#555", "strokeWidth": 0.8}, "encoding": {"x": {"datum": 2.258, "axis": null}, "x2": {"datum": 1.324}, "y": {"datum": -5.5, "axis": null}}},
          {"data": {"name": "tB"}, "mark": {"type": "rule", "color": "#555", "strokeWidth": 0.6}, "encoding": {"x": {"field": "t", "type": "quantitative", "axis": null}, "y": {"datum": -5.5, "axis": null}, "y2": {"datum": -7.8}}},
          {"data": {"name": "lB"}, "mark": {"type": "text", "fontSize": 5.5, "color": "#333"}, "encoding": {"x": {"field": "t", "type": "quantitative", "axis": null}, "y": {"datum": -13.5, "axis": null}, "text": {"field": "lab"}}},
          {"data": {"name": "one"}, "mark": {"type": "text", "fontSize": 7, "color": "#333"}, "encoding": {"x": {"datum": 1.786, "axis": null}, "y": {"datum": -22.2, "axis": null}, "text": {"value": "¹H (ppm)"}}},
          {"data": {"name": "one"}, "mark": {"type": "rect", "fill": "white", "stroke": "#707070", "strokeWidth": 0.7}, "encoding": {"x": {"datum": 2.453, "axis": null}, "x2": {"datum": 1.98}, "y": {"datum": 69, "axis": null}, "y2": {"datum": 55}}},
          {"data": {"name": "one"}, "mark": {"type": "text", "fontSize": 8, "color": "#222"}, "encoding": {"x": {"datum": 2.216, "axis": null}, "y": {"datum": 62, "axis": null}, "text": {"value": "1D STD spectra"}}}
         ]}
        ]
       },
       {"width": 152, "height": 236,
        "title": {"text": "27°C", "orient": "bottom", "frame": "group", "anchor": "middle", "fontSize": 10, "offset": 6.5},
        "resolve": {"scale": {"y": "independent"}},
        "layer": [
         {"layer": [
          {"data": {"name": "B2_1d"}, "mark": {"type": "line", "color": "#8f7d3f", "strokeWidth": 1}, "encoding": {
            "x": {"field": "ppm", "type": "quantitative", "scale": {"domain": [1.288, 2.307], "reverse": true, "zero": false, "nice": false}, "axis": null},
            "y": {"field": "i", "type": "quantitative", "scale": {"domain": [-127, 109], "zero": false, "nice": false}, "axis": null}}},
          {"data": {"name": "one"}, "mark": {"type": "rect", "color": "#f8c6d6", "opacity": 0.4}, "encoding": {"x": {"datum": 2.227, "axis": null}, "x2": {"datum": 2.137}, "y": {"datum": 0, "axis": null}, "y2": {"datum": 93}}},
          {"data": {"name": "one"}, "mark": {"type": "rect", "color": "#f8c6d6", "opacity": 0.4}, "encoding": {"x": {"datum": 1.981, "axis": null}, "x2": {"datum": 1.847}, "y": {"datum": 0, "axis": null}, "y2": {"datum": 50}}},
          {"data": {"name": "one"}, "mark": {"type": "rect", "color": "#f8c6d6", "opacity": 0.2}, "encoding": {"x": {"datum": 2.07, "axis": null}, "x2": {"datum": 2.014}, "y": {"datum": 0, "axis": null}, "y2": {"datum": 42}}},
          {"data": {"name": "one"}, "mark": {"type": "rect", "color": "#f8c6d6", "opacity": 0.2}, "encoding": {"x": {"datum": 1.66, "axis": null}, "x2": {"datum": 1.575}, "y": {"datum": 0, "axis": null}, "y2": {"datum": 36}}},
          {"data": {"name": "B2_red"}, "mark": {"type": "area", "color": "#e5413a", "opacity": 0.3}, "encoding": {"x": {"field": "ppm", "type": "quantitative", "axis": null}, "y": {"field": "i", "type": "quantitative", "axis": null}, "y2": {"datum": 0}}},
          {"data": {"name": "B2_1d"}, "mark": {"type": "line", "color": "#8f7d3f", "strokeWidth": 1}, "encoding": {"x": {"field": "ppm", "type": "quantitative", "axis": null}, "y": {"field": "i", "type": "quantitative", "axis": null}}},
          {"data": {"name": "one"}, "mark": {"type": "rule", "color": "#555", "strokeWidth": 0.8}, "encoding": {"x": {"datum": 2.271, "axis": null}, "x2": {"datum": 1.322}, "y": {"datum": -2, "axis": null}}},
          {"data": {"name": "tB"}, "mark": {"type": "rule", "color": "#555", "strokeWidth": 0.6}, "encoding": {"x": {"field": "t", "type": "quantitative", "axis": null}, "y": {"datum": -2, "axis": null}, "y2": {"datum": -4.3}}},
          {"data": {"name": "lB"}, "mark": {"type": "text", "fontSize": 5.5, "color": "#333"}, "encoding": {"x": {"field": "t", "type": "quantitative", "axis": null}, "y": {"datum": -13.3, "axis": null}, "text": {"field": "lab"}}},
          {"data": {"name": "B2_br"}, "mark": {"type": "line", "color": "#555", "strokeWidth": 0.8}, "encoding": {"x": {"field": "ppm", "type": "quantitative", "axis": null}, "y": {"field": "i", "type": "quantitative", "axis": null}, "detail": {"field": "id"}}},
          {"data": {"name": "one"}, "mark": {"type": "rule", "color": "#5563e6", "strokeWidth": 0.8}, "encoding": {"x": {"datum": 2.059, "axis": null}, "y": {"datum": 93, "axis": null}, "x2": {"datum": 2.138}, "y2": {"datum": 82.3}}},
          {"data": {"name": "one"}, "mark": {"type": "rule", "color": "#5563e6", "strokeWidth": 0.8}, "encoding": {"x": {"datum": 1.992, "axis": null}, "y": {"datum": 92, "axis": null}, "x2": {"datum": 1.939}, "y2": {"datum": 56.3}}},
          {"data": {"name": "one"}, "mark": {"type": "point", "shape": "triangle-up", "filled": true, "color": "#5563e6", "opacity": 1, "size": 14, "angle": 228}, "encoding": {"x": {"datum": 2.138, "axis": null}, "y": {"datum": 82.3, "axis": null}}},
          {"data": {"name": "one"}, "mark": {"type": "point", "shape": "triangle-up", "filled": true, "color": "#5563e6", "opacity": 1, "size": 14, "angle": 167.6}, "encoding": {"x": {"datum": 1.939, "axis": null}, "y": {"datum": 56.3, "axis": null}}},
          {"data": {"name": "one"}, "mark": {"type": "text", "fontSize": 7.3, "color": "#333"}, "encoding": {"x": {"datum": 2.014, "axis": null}, "y": {"datum": 96.7, "axis": null}, "text": {"value": "MSG"}}}
         ]},
         {"layer": [
          {"data": {"name": "B2_std"}, "mark": {"type": "line", "color": "#6a60e0", "strokeWidth": 1}, "encoding": {
            "x": {"field": "ppm", "type": "quantitative", "scale": {"domain": [1.288, 2.307], "reverse": true, "zero": false, "nice": false}, "axis": null},
            "y": {"field": "i", "type": "quantitative", "scale": {"domain": [-31, 205], "zero": false, "nice": false}, "axis": null}}},
          {"data": {"name": "one"}, "mark": {"type": "rule", "color": "#555", "strokeWidth": 0.8}, "encoding": {"x": {"datum": 2.271, "axis": null}, "x2": {"datum": 1.322}, "y": {"datum": -5.5, "axis": null}}},
          {"data": {"name": "tB"}, "mark": {"type": "rule", "color": "#555", "strokeWidth": 0.6}, "encoding": {"x": {"field": "t", "type": "quantitative", "axis": null}, "y": {"datum": -5.5, "axis": null}, "y2": {"datum": -7.8}}},
          {"data": {"name": "lB"}, "mark": {"type": "text", "fontSize": 5.5, "color": "#333"}, "encoding": {"x": {"field": "t", "type": "quantitative", "axis": null}, "y": {"datum": -13.5, "axis": null}, "text": {"field": "lab"}}},
          {"data": {"name": "one"}, "mark": {"type": "text", "fontSize": 7, "color": "#333"}, "encoding": {"x": {"datum": 1.798, "axis": null}, "y": {"datum": -22.2, "axis": null}, "text": {"value": "¹H (ppm)"}}}
         ]}
        ]
       }
      ]
     }
    ]
   }
  ]
 }
]
}
